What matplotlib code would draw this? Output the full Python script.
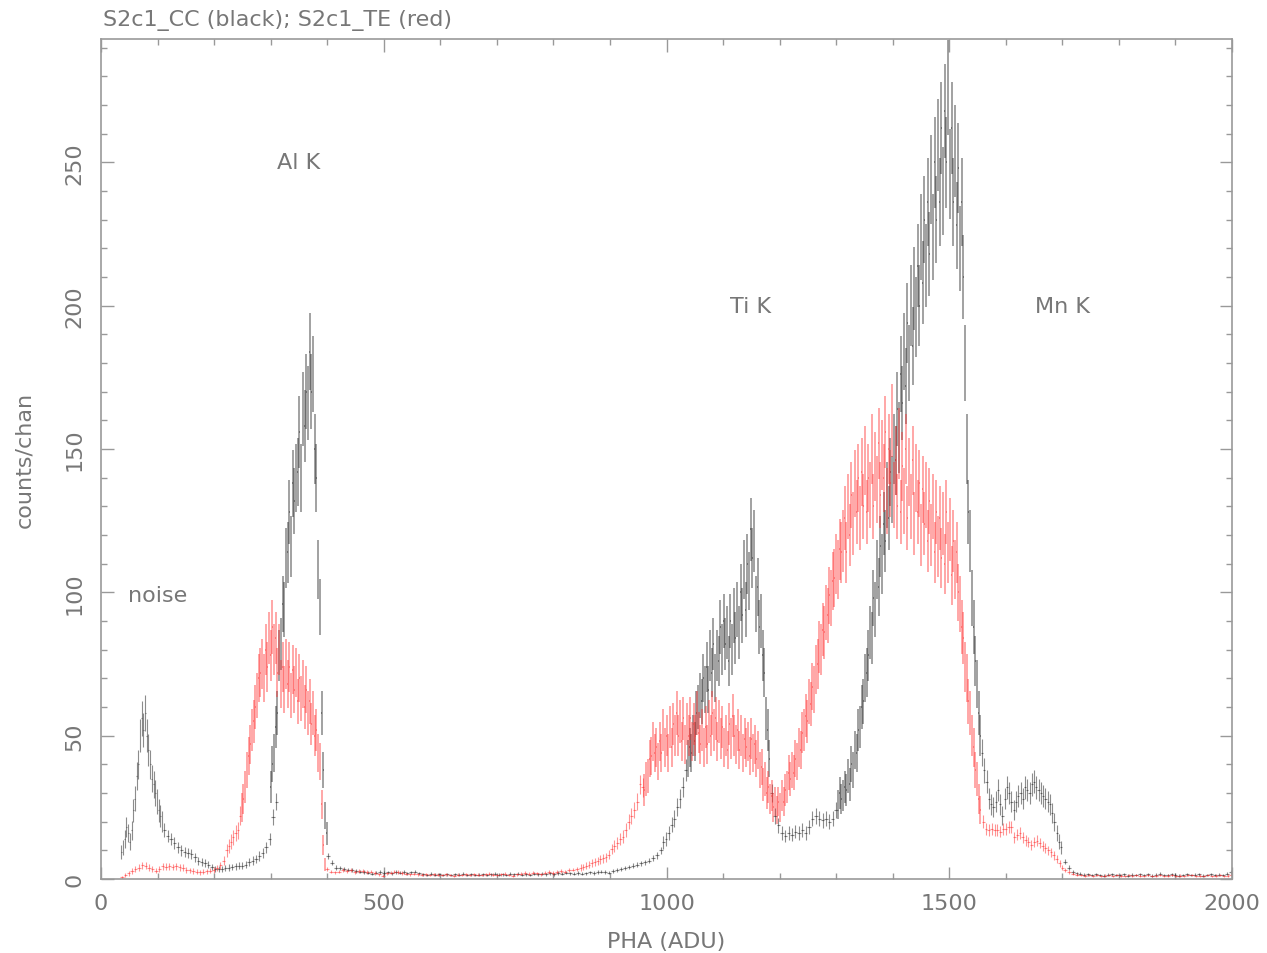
import numpy as np
import matplotlib.pyplot as plt
from matplotlib.ticker import MultipleLocator

# each segment: (first channel, step, bar half-width, grouping width, counts/chan values)
cc_segments = [
    (36, 3, 0.75, 1.5, [9.5, 11, 14, 18, 16, 13, 17, 24, 28, 36, 40, 50, 56, 52, 58, 50, 45, 40,
                       35, 33, 30, 27, 24, 22, 20]),
    (112, 6, 3, 3, [17, 15, 14, 12.5, 11, 10, 9.5, 9, 8.7, 7.5, 6.2, 5.8, 5.6, 5, 4.2, 3.6, 3.5,
                    3.6, 3.8, 4, 4.2, 4.4, 4.6, 4.6, 5, 5.8, 6.4, 7, 8, 9, 11, 14, 21.6, 27]),
    (300, 3, 0.5, 1, [32, 40, 44, 53, 58, 78, 82, 96, 94, 112, 114, 128, 116, 138, 132, 140, 142,
                      156, 140, 164, 158, 170, 166, 184, 170, 176, 150, 140, 108, 95, 58, 38, 22, 16]),
    (402, 7, 3.5, 7, [8, 5.6, 4, 3.7, 3.4, 3.3, 3, 2.8, 2.6, 2.4, 2.2, 1.8, 2.2, 2.4, 2.1, 2.3, 2.0,
                      2.4, 2.2, 2.5, 2.0, 2.3, 2.6, 2.0, 1.6, 1.4, 1.8, 1.5, 1.7, 1.3, 1.6, 1.4, 1.7,
                      1.5, 1.8, 1.4, 1.6, 1.3, 1.5, 1.7, 1.4, 1.6, 1.9, 1.5, 1.7, 1.4, 1.8, 1.6, 1.9,
                      1.5, 1.7, 1.4, 1.8, 1.6, 1.9, 1.6, 2.0, 1.7, 2.1, 1.8, 2.2, 2.0, 1.8, 2.1, 1.8,
                      2.0, 2.3, 2.1, 2.4, 2.6, 2.4, 2.2, 2.8, 3.2, 3.5, 3.8, 4.2, 4.6, 5.0, 5.4, 5.8,
                      6.4, 7.2, 8.2, 10]),
    (994, 5, 2.5, 2.5, [12.8, 14, 16, 19, 21, 25, 28, 32, 38]),
    (1038, 3, 0.5, 1, [42, 46, 44, 50, 48, 58, 60, 64, 62, 70, 66, 74, 66, 78, 72, 82, 70, 78, 76,
                       88, 80, 90, 82, 86, 76, 90, 80, 92, 84, 94, 86, 100, 92, 108, 94, 110, 104,
                       122, 112, 118, 96, 102, 88, 90, 78, 72, 56, 52, 42]),
    (1186, 6, 3, 3, [30, 22, 18.7, 16, 15, 16, 15.5, 16.5, 16, 17, 16, 18, 21, 22, 21, 20.5, 21,
                     20, 21, 24]),
    (1303, 3, 0.5, 1, [26, 30, 28, 29, 32, 31, 36, 33, 40, 38, 45, 44, 52, 53, 60, 62, 70, 72, 78,
                       86, 84, 98, 94, 108, 102, 116, 110, 124, 118, 134, 126, 142, 136, 150, 146,
                       164, 154, 176, 166, 184, 172, 194, 180, 200, 186, 206, 196, 214, 200, 224,
                       208, 230, 214, 236, 218, 244, 224, 250, 230, 256, 236, 262, 240, 268, 250,
                       276, 246, 262, 236, 254, 228, 248, 220, 236, 210, 180, 150, 128, 118, 98,
                       88, 76, 68, 58, 50]),
    (1558, 4, 2, 2, [44, 38, 34, 28, 26, 25, 27, 31, 26, 22, 28, 32, 30, 27, 24, 27, 29, 30, 28,
                     32, 31, 30, 33, 34, 32, 31, 30, 29, 28, 27, 26, 23, 20, 16, 13, 11]),
    (1704, 7, 3.5, 7, [6, 4, 2.4, 2, 1.8, 1.5, 1.7, 1.3, 1.6, 1.4, 1.2, 1.5, 1.7, 1.3, 1.4, 1.6,
                       1.2, 1.5, 1.3, 1.7, 1.4, 1.6, 1.2, 1.5, 1.8, 1.4, 1.3, 1.6, 1.5, 1.2, 1.4,
                       1.7, 1.3, 1.5, 1.6, 1.2, 1.4, 1.7, 1.3, 1.5, 1.4, 1.8, 2.5]),
]

te_segments = [
    (37, 6, 3, 3, [0.6, 1.4, 2.0, 2.8, 3.5, 4.0, 4.8, 4.6, 4.0, 3.4, 2.9, 3.6, 4.4, 4.3, 4.4, 4.2,
                   4.4, 4.1, 4.0, 3.2, 3.0, 2.8, 2.6, 2.4, 2.6, 2.7, 2.9, 3.3, 3.8, 4.8, 6.4]),
    (222, 4, 2, 2, [10, 11.6, 13, 14.5, 16, 17, 22]),
    (249, 3, 0.5, 1, [25, 28, 32, 38, 43, 47, 52, 55, 60, 64, 70, 72, 75, 70, 80, 74, 84, 78, 88,
                      80, 84, 72, 80, 68, 74, 66, 75, 68, 74, 64, 73, 66, 72, 62, 70, 63, 68, 60,
                      66, 58, 62, 54, 58, 50, 52, 44, 41, 26, 12, 5]),
    (400, 7, 3.5, 7, [3.5, 2.6, 2.3, 2.6, 3.0, 2.7, 3.1, 2.5, 2.8, 2.9, 2.4, 2.6, 2.1, 1.6, 1.2,
                      2.0, 2.2, 2.6, 2.4, 2.1, 1.8, 1.6, 1.9, 1.7, 1.5, 1.6, 1.4, 1.7, 1.5, 1.3,
                      1.6, 1.4, 1.2, 1.5, 1.3, 1.6, 1.4, 1.7, 1.5, 1.3, 1.6, 1.9, 1.5, 1.3, 1.6,
                      1.8, 1.4, 1.2, 1.6, 1.9, 2.1, 1.8, 2.2, 2.0, 1.7, 2.2, 2.4, 2.1, 2.5, 2.8,
                      2.6, 3.0, 3.3, 3.6]),
    (848, 5, 2.5, 3, [4, 4.2, 4.6, 5.0, 5.6, 5.8, 6.3, 6.8, 7.2, 7.6, 8.5, 10.5, 11.5, 12.5, 14,
                      14.8, 17, 20, 22, 24, 27, 33, 32]),
    (961, 3, 0.5, 1, [31, 35, 36, 42, 43, 48, 44, 46, 41, 48, 44, 52, 46, 50, 44, 53, 46, 54, 50,
                      58, 50, 55, 48, 56, 47, 54, 50, 56, 48, 54, 50, 58, 51, 47, 52, 46, 53, 47,
                      55, 50, 58, 52, 56, 48, 55, 49, 53, 46, 50, 45, 54, 49, 57, 50, 47, 52, 45,
                      50, 44, 49, 46, 48, 43, 49, 44, 47, 42, 45, 38, 39, 33, 35, 30, 32, 28, 29,
                      25, 27, 24, 27, 25, 29, 27, 31, 32, 37, 35, 38, 37, 42, 41, 46, 45, 51, 52,
                      57, 55, 62, 61, 67, 66, 73, 75, 81, 80, 87, 86, 93, 92, 99, 98, 104, 105,
                      110, 108, 115, 114]),
    (1312, 3, 0.5, 1, [118, 126, 114, 130, 120, 134, 124, 138, 128, 140, 126, 142, 130, 146, 128,
                       140, 134, 150, 130, 144, 136, 152, 134, 148, 140, 156, 132, 150, 138, 160,
                       134, 146, 130, 152, 128, 144, 132, 150, 126, 142, 130, 146, 124, 140, 128,
                       138, 120, 136, 124, 134, 118, 132, 120, 130, 114, 128, 116, 126, 112, 124,
                       110, 128, 114, 122, 106, 118, 108, 114, 100, 96, 88, 84, 74, 70, 62, 58,
                       50, 46, 38, 35, 28, 24]),
    (1560, 5, 2.5, 4, [20, 17.5, 17, 17.5, 17, 17, 16.5, 17.5, 17.5, 18, 18, 14.5, 15.5, 16, 14.5,
                       13.5, 13, 12, 13, 13.4, 12.5, 11.5, 10.8, 10, 9.3, 8.2, 7, 5.5, 4]),
    (1705, 7, 3.5, 7, [3, 2.4, 1.8, 1.5, 1.3, 1.2, 1.4, 1.1, 1.3, 1.0, 1.2, 1.4, 1.1, 1.3, 1.2,
                       1.0, 1.3, 1.1, 1.4, 1.2, 1.0, 1.3, 1.1, 1.2, 1.4, 1.0, 1.2, 1.3, 1.1, 1.2,
                       1.0, 1.3, 1.4, 1.1, 1.2, 1.0, 1.3, 1.1, 1.2, 1.4, 1.0, 1.2, 1.5]),
]

labels = [("noise", 100, 99), ("Al K", 350, 250), ("Ti K", 1148, 200), ("Mn K", 1700, 200)]

title = "S2c1_CC (black); S2c1_TE (red)"


def draw(ax, segments, color, alpha):
    for start, step, half, width, vals in segments:
        vals = np.array(vals, dtype=float)
        xs = start + step * np.arange(len(vals))
        # dense single-channel stretches get thicker bars so they merge into a band
        lw = 1.15 if width == 1 else 0.8
        ax.errorbar(xs, vals, xerr=np.full(len(vals), half), yerr=np.sqrt(vals / width),
                    fmt='none', ecolor=color, elinewidth=lw, alpha=alpha)


grey = '#777777'
plt.rcParams['font.family'] = ['DejaVu Sans']

fig = plt.figure(figsize=(12.67, 9.54), dpi=100)
ax = fig.add_axes([0.0797, 0.0776, 0.8927, 0.8804])

draw(ax, cc_segments, '#1a1a1a', 0.5)
draw(ax, te_segments, '#ff2a2a', 0.5)

ax.set_xlim(0, 2000)
ax.set_ylim(0, 293)
ax.xaxis.set_major_locator(MultipleLocator(500))
ax.xaxis.set_minor_locator(MultipleLocator(100))
ax.yaxis.set_major_locator(MultipleLocator(50))
ax.yaxis.set_minor_locator(MultipleLocator(10))
ax.tick_params(which='both', direction='in', top=True, right=True, color='#999999', width=1.0)
ax.tick_params(which='major', length=9)
ax.tick_params(which='minor', length=4.5)
ax.tick_params(axis='x', pad=10, labelsize=16, labelcolor=grey)
ax.tick_params(axis='y', pad=12, labelsize=16, labelcolor=grey)
plt.setp(ax.get_yticklabels(), rotation=90, va='center')
for s in ax.spines.values():
    s.set_color('#999999')
    s.set_linewidth(1.2)

ax.set_xlabel("PHA (ADU)", fontsize=16, color=grey, labelpad=13)
ax.set_ylabel("counts/chan", fontsize=16, color=grey, labelpad=22)
fig.text(0.081, 0.979, title, fontsize=16, color=grey, ha='left', va='center')

for txt, lx, ly in labels:
    ax.text(lx, ly, txt, fontsize=16, color=grey, ha='center', va='center')

fig.savefig("out.png", dpi=100, facecolor='white')
